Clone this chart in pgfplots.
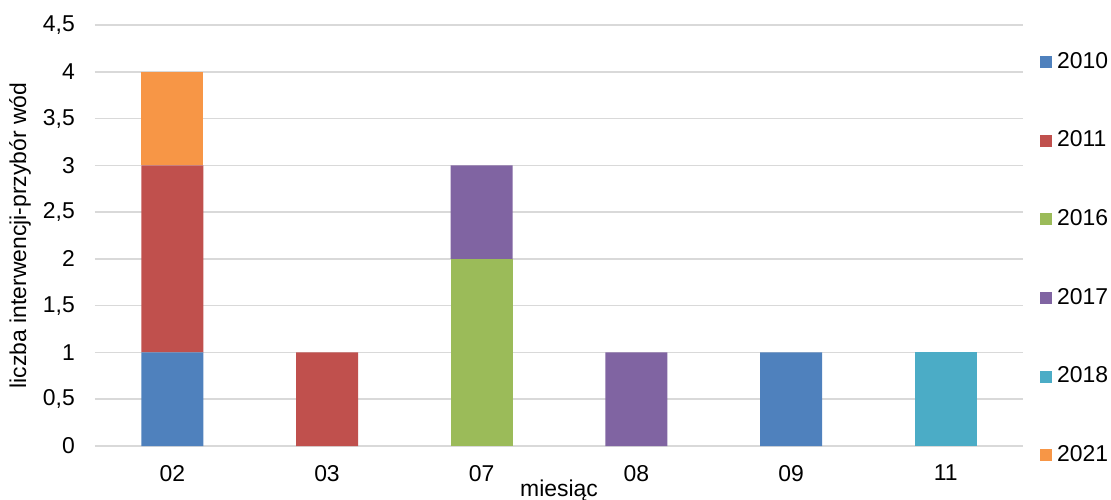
\documentclass[border=0pt]{standalone}
\usepackage{fontspec}
\setmainfont{Liberation Sans}
\usepackage{pgfplots}
\pgfplotsset{compat=1.18}
\definecolor{c2010}{HTML}{4F81BD}
\definecolor{c2011}{HTML}{C0504D}
\definecolor{c2016}{HTML}{9BBB59}
\definecolor{c2017}{HTML}{8064A2}
\definecolor{c2018}{HTML}{4BACC6}
\definecolor{c2021}{HTML}{F79646}
\definecolor{gridc}{HTML}{D9D9D9}
\begin{document}
\begin{tikzpicture}
\path[use as bounding box] (-95bp,-54bp) rectangle (1016bp,446bp);
\begin{axis}[
  at={(0,0)}, anchor=south west,
  scale only axis,
  width=928bp, height=421bp,
  ybar stacked,
  bar width=62bp,
  xmin=-0.5, xmax=5.5,
  ymin=0, ymax=4.5,
  ytick={0,0.5,...,4.5},
  xtick={0,1,2,3,4,5},
  xticklabels={02,03,07,08,09,11},
  axis line style={draw=none},
  tick style={draw=none},
  ymajorgrids,
  major grid style={gridc, line width=1.5bp},
  ticklabel style={font=\fontsize{23}{26}\selectfont, inner sep=0pt},
  /pgf/number format/use comma,
  /pgf/number format/assume math mode=true,
  yticklabel style={xshift=-20bp},
  xticklabel style={yshift=-19bp},
  xlabel={miesiąc},
  xlabel style={font=\fontsize{23}{26}\selectfont, at={(axis description cs:0.5,0)}, anchor=base, yshift=-50bp},
  ylabel={liczba interwencji-przybór wód},
  ylabel style={font=\fontsize{23}{26}\selectfont, at={(axis description cs:0,0.5)}, anchor=center, yshift=75bp},
  legend style={draw=none, fill=none, at={(axis description cs:1,1)}, anchor=north west,
    xshift=17bp, yshift=-26bp, inner sep=0pt,
    font=\fontsize{23}{26}\selectfont, row sep=56.6bp, column sep=5bp,
    nodes={text height=17bp, text depth=5bp, inner sep=0pt}},
  legend cell align=left,
  legend image code/.code={\fill[#1] (0bp,-6bp) rectangle (12bp,6bp);},
  every axis plot/.append style={draw=none},
  clip=false,
]
\addplot[fill=c2010] coordinates {(0,1) (1,0) (2,0) (3,0) (4,1) (5,0)};
\addplot[fill=c2011] coordinates {(0,2) (1,1) (2,0) (3,0) (4,0) (5,0)};
\addplot[fill=c2016] coordinates {(0,0) (1,0) (2,2) (3,0) (4,0) (5,0)};
\addplot[fill=c2017] coordinates {(0,0) (1,0) (2,1) (3,1) (4,0) (5,0)};
\addplot[fill=c2018] coordinates {(0,0) (1,0) (2,0) (3,0) (4,0) (5,1)};
\addplot[fill=c2021] coordinates {(0,1) (1,0) (2,0) (3,0) (4,0) (5,0)};
\legend{2010,2011,2016,2017,2018,2021}
\end{axis}
\end{tikzpicture}
\end{document}
